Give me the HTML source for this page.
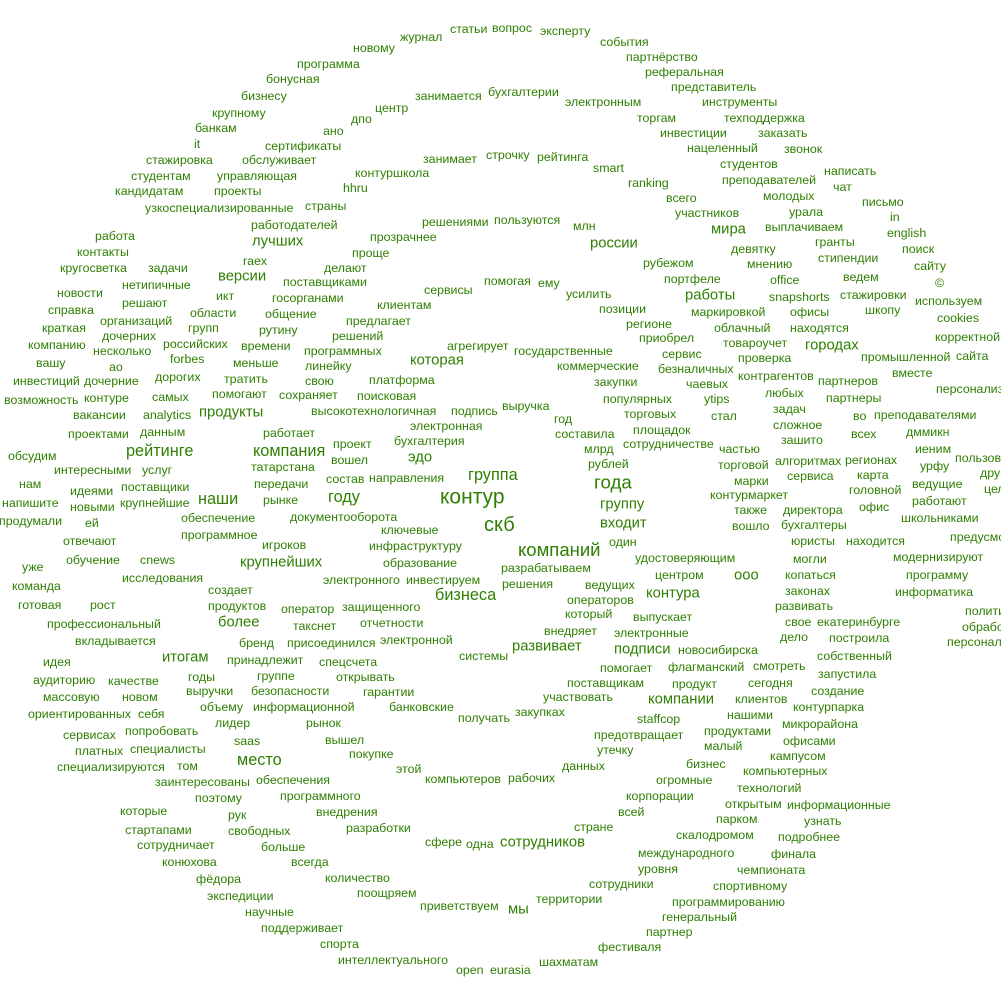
<!DOCTYPE html>
<html><head><meta charset="utf-8"><style>
html,body{margin:0;padding:0;background:#fff;width:1001px;height:1001px;overflow:hidden}
#w{position:relative;width:1001px;height:1001px;font-family:"Liberation Sans",Arial,sans-serif;font-size:12.4px;color:#2f7f02;line-height:1}
#w i{position:absolute;font-style:normal;white-space:nowrap;transform:translateY(-50%)}
#w i.b{font-size:14.8px}
#w i.c{font-size:16.3px}
#w i.d{font-size:18.8px}
</style></head><body><div id="w">
<i style="left:400px;top:37px">журнал</i>
<i style="left:450px;top:29px">статьи</i>
<i style="left:492px;top:28px">вопрос</i>
<i style="left:540px;top:31px">эксперту</i>
<i style="left:353px;top:48px">новому</i>
<i style="left:600px;top:42px">события</i>
<i style="left:626px;top:57px">партнёрство</i>
<i style="left:297px;top:64px">программа</i>
<i style="left:645px;top:72px">реферальная</i>
<i style="left:266px;top:79px">бонусная</i>
<i style="left:671px;top:87px">представитель</i>
<i style="left:415px;top:96px">занимается</i>
<i style="left:488px;top:92px">бухгалтерии</i>
<i style="left:241px;top:96px">бизнесу</i>
<i style="left:375px;top:108px">центр</i>
<i style="left:565px;top:102px">электронным</i>
<i style="left:702px;top:102px">инструменты</i>
<i style="left:212px;top:113px">крупному</i>
<i style="left:351px;top:119px">дпо</i>
<i style="left:637px;top:118px">торгам</i>
<i style="left:724px;top:118px">техподдержка</i>
<i style="left:195px;top:128px">банкам</i>
<i style="left:323px;top:131px">ано</i>
<i style="left:660px;top:133px">инвестиции</i>
<i style="left:758px;top:133px">заказать</i>
<i style="left:194px;top:144px">it</i>
<i style="left:265px;top:146px">сертификаты</i>
<i style="left:687px;top:148px">нацеленный</i>
<i style="left:784px;top:149px">звонок</i>
<i style="left:423px;top:159px">занимает</i>
<i style="left:486px;top:155px">строчку</i>
<i style="left:537px;top:157px">рейтинга</i>
<i style="left:146px;top:160px">стажировка</i>
<i style="left:242px;top:160px">обслуживает</i>
<i style="left:593px;top:168px">smart</i>
<i style="left:720px;top:164px">студентов</i>
<i style="left:131px;top:176px">студентам</i>
<i style="left:217px;top:176px">управляющая</i>
<i style="left:355px;top:173px">контуршкола</i>
<i style="left:628px;top:183px">ranking</i>
<i style="left:722px;top:180px">преподавателей</i>
<i style="left:824px;top:171px">написать</i>
<i style="left:115px;top:191px">кандидатам</i>
<i style="left:214px;top:191px">проекты</i>
<i style="left:343px;top:188px">hhru</i>
<i style="left:666px;top:198px">всего</i>
<i style="left:763px;top:196px">молодых</i>
<i style="left:833px;top:187px">чат</i>
<i style="left:862px;top:202px">письмо</i>
<i style="left:145px;top:208px">узкоспециализированные</i>
<i style="left:305px;top:206px">страны</i>
<i style="left:422px;top:222px">решениями</i>
<i style="left:494px;top:220px">пользуются</i>
<i style="left:675px;top:213px">участников</i>
<i style="left:789px;top:212px">урала</i>
<i style="left:890px;top:217px">in</i>
<i style="left:251px;top:225px">работодателей</i>
<i style="left:573px;top:226px">млн</i>
<i style="left:765px;top:227px">выплачиваем</i>
<i style="left:887px;top:233px">english</i>
<i style="left:95px;top:236px">работа</i>
<i class="b" style="left:252px;top:242px">лучших</i>
<i style="left:370px;top:237px">прозрачнее</i>
<i class="b" style="left:590px;top:244px">россии</i>
<i class="b" style="left:711px;top:230px">мира</i>
<i style="left:815px;top:242px">гранты</i>
<i style="left:77px;top:252px">контакты</i>
<i style="left:352px;top:253px">проще</i>
<i style="left:731px;top:249px">девятку</i>
<i style="left:818px;top:258px">стипендии</i>
<i style="left:902px;top:249px">поиск</i>
<i style="left:243px;top:261px">raex</i>
<i class="b" style="left:218px;top:277px">версии</i>
<i style="left:283px;top:282px">поставщиками</i>
<i style="left:324px;top:268px">делают</i>
<i style="left:484px;top:281px">помогая</i>
<i style="left:538px;top:283px">ему</i>
<i style="left:643px;top:263px">рубежом</i>
<i style="left:747px;top:264px">мнению</i>
<i style="left:843px;top:277px">ведем</i>
<i style="left:914px;top:266px">сайту</i>
<i style="left:60px;top:268px">кругосветка</i>
<i style="left:148px;top:268px">задачи</i>
<i style="left:122px;top:285px">нетипичные</i>
<i style="left:424px;top:290px">сервисы</i>
<i style="left:566px;top:294px">усилить</i>
<i style="left:664px;top:279px">портфеле</i>
<i style="left:770px;top:280px">office</i>
<i style="left:935px;top:283px">©</i>
<i style="left:57px;top:293px">новости</i>
<i style="left:216px;top:296px">икт</i>
<i style="left:272px;top:298px">госорганами</i>
<i style="left:377px;top:305px">клиентам</i>
<i class="b" style="left:685px;top:296px">работы</i>
<i style="left:769px;top:297px">snapshorts</i>
<i style="left:840px;top:295px">стажировки</i>
<i style="left:915px;top:301px">используем</i>
<i style="left:48px;top:310px">справка</i>
<i style="left:122px;top:303px">решают</i>
<i style="left:190px;top:313px">области</i>
<i style="left:265px;top:314px">общение</i>
<i style="left:599px;top:309px">позиции</i>
<i style="left:691px;top:312px">маркировкой</i>
<i style="left:790px;top:312px">офисы</i>
<i style="left:865px;top:310px">шкопу</i>
<i style="left:42px;top:328px">краткая</i>
<i style="left:100px;top:321px">организаций</i>
<i style="left:188px;top:328px">групп</i>
<i style="left:259px;top:330px">рутину</i>
<i style="left:346px;top:321px">предлагает</i>
<i style="left:626px;top:324px">регионе</i>
<i style="left:937px;top:318px">cookies</i>
<i style="left:28px;top:345px">компанию</i>
<i style="left:102px;top:336px">дочерних</i>
<i style="left:241px;top:346px">времени</i>
<i style="left:332px;top:336px">решений</i>
<i style="left:447px;top:346px">агрегирует</i>
<i style="left:714px;top:328px">облачный</i>
<i style="left:790px;top:328px">находятся</i>
<i style="left:935px;top:337px">корректной</i>
<i style="left:36px;top:363px">вашу</i>
<i style="left:93px;top:351px">несколько</i>
<i style="left:170px;top:359px">forbes</i>
<i style="left:163px;top:344px">российских</i>
<i style="left:304px;top:351px">программных</i>
<i style="left:639px;top:338px">приобрел</i>
<i style="left:723px;top:343px">товароучет</i>
<i class="b" style="left:805px;top:346px">городах</i>
<i style="left:956px;top:356px">сайта</i>
<i style="left:109px;top:367px">ао</i>
<i style="left:233px;top:363px">меньше</i>
<i style="left:305px;top:366px">линейку</i>
<i style="left:514px;top:351px">государственные</i>
<i style="left:662px;top:354px">сервис</i>
<i style="left:738px;top:358px">проверка</i>
<i style="left:861px;top:357px">промышленной</i>
<i style="left:13px;top:381px">инвестиций</i>
<i style="left:84px;top:381px">дочерние</i>
<i style="left:155px;top:377px">дорогих</i>
<i style="left:224px;top:379px">тратить</i>
<i style="left:305px;top:381px">свою</i>
<i style="left:369px;top:380px">платформа</i>
<i class="b" style="left:410px;top:361px">которая</i>
<i style="left:557px;top:366px">коммерческие</i>
<i style="left:658px;top:369px">безналичных</i>
<i style="left:892px;top:373px">вместе</i>
<i style="left:936px;top:389px">персонализ</i>
<i style="left:4px;top:400px">возможность</i>
<i style="left:84px;top:398px">контуре</i>
<i style="left:152px;top:397px">самых</i>
<i style="left:212px;top:394px">помогают</i>
<i style="left:279px;top:395px">сохраняет</i>
<i style="left:357px;top:396px">поисковая</i>
<i style="left:594px;top:382px">закупки</i>
<i style="left:738px;top:376px">контрагентов</i>
<i style="left:818px;top:381px">партнеров</i>
<i style="left:686px;top:384px">чаевых</i>
<i style="left:73px;top:415px">вакансии</i>
<i style="left:143px;top:415px">analytics</i>
<i class="b" style="left:199px;top:413px">продукты</i>
<i style="left:311px;top:411px">высокотехнологичная</i>
<i style="left:451px;top:411px">подпись</i>
<i style="left:502px;top:406px">выручка</i>
<i style="left:603px;top:399px">популярных</i>
<i style="left:704px;top:399px">ytips</i>
<i style="left:765px;top:393px">любых</i>
<i style="left:826px;top:398px">партнеры</i>
<i style="left:711px;top:416px">стал</i>
<i style="left:853px;top:416px">во</i>
<i style="left:874px;top:415px">преподавателями</i>
<i style="left:68px;top:434px">проектами</i>
<i style="left:140px;top:432px">данным</i>
<i style="left:624px;top:414px">торговых</i>
<i style="left:773px;top:409px">задач</i>
<i style="left:410px;top:426px">электронная</i>
<i style="left:554px;top:419px">год</i>
<i style="left:633px;top:430px">площадок</i>
<i style="left:773px;top:425px">сложное</i>
<i style="left:851px;top:434px">всех</i>
<i style="left:906px;top:432px">дммикн</i>
<i style="left:8px;top:456px">обсудим</i>
<i style="left:54px;top:470px">интересными</i>
<i style="left:263px;top:433px">работает</i>
<i style="left:333px;top:444px">проект</i>
<i style="left:394px;top:441px">бухгалтерия</i>
<i style="left:555px;top:434px">составила</i>
<i style="left:623px;top:444px">сотрудничестве</i>
<i style="left:781px;top:440px">зашито</i>
<i class="c" style="left:126px;top:451px">рейтинге</i>
<i class="c" style="left:253px;top:451px">компания</i>
<i style="left:584px;top:449px">млрд</i>
<i style="left:719px;top:449px">частью</i>
<i style="left:915px;top:449px">иеним</i>
<i style="left:955px;top:458px">пользов</i>
<i style="left:142px;top:470px">услуг</i>
<i style="left:331px;top:460px">вошел</i>
<i class="b" style="left:408px;top:458px">эдо</i>
<i style="left:775px;top:461px">алгоритмах</i>
<i style="left:845px;top:460px">регионах</i>
<i style="left:19px;top:484px">нам</i>
<i style="left:70px;top:491px">идеями</i>
<i style="left:251px;top:467px">татарстана</i>
<i style="left:588px;top:464px">рублей</i>
<i style="left:718px;top:465px">торговой</i>
<i style="left:920px;top:466px">урфу</i>
<i style="left:980px;top:473px">дру</i>
<i style="left:121px;top:487px">поставщики</i>
<i style="left:326px;top:479px">состав</i>
<i style="left:369px;top:478px">направления</i>
<i class="c" style="left:468px;top:475px">группа</i>
<i style="left:787px;top:476px">сервиса</i>
<i style="left:857px;top:475px">карта</i>
<i style="left:254px;top:484px">передачи</i>
<i style="left:734px;top:481px">марки</i>
<i style="left:912px;top:484px">ведущие</i>
<i style="left:984px;top:489px">цел</i>
<i style="left:2px;top:503px">напишите</i>
<i style="left:70px;top:507px">новыми</i>
<i style="left:120px;top:503px">крупнейшие</i>
<i class="c" style="left:198px;top:499px">наши</i>
<i style="left:263px;top:500px">рынке</i>
<i class="c" style="left:328px;top:497px">году</i>
<i style="left:440px;top:497px;font-size:21px">контур</i>
<i class="d" style="left:594px;top:483px">года</i>
<i style="left:710px;top:495px">контурмаркет</i>
<i style="left:849px;top:490px">головной</i>
<i style="left:912px;top:501px">работают</i>
<i style="left:-1px;top:521px">продумали</i>
<i style="left:85px;top:523px">ей</i>
<i style="left:181px;top:518px">обеспечение</i>
<i style="left:290px;top:517px">документооборота</i>
<i style="left:484px;top:525px;font-size:20px">скб</i>
<i class="b" style="left:600px;top:505px">группу</i>
<i class="b" style="left:600px;top:524px">входит</i>
<i style="left:734px;top:510px">также</i>
<i style="left:783px;top:510px">директора</i>
<i style="left:859px;top:507px">офис</i>
<i style="left:901px;top:518px">школьниками</i>
<i style="left:63px;top:541px">отвечают</i>
<i style="left:181px;top:535px">программное</i>
<i style="left:381px;top:530px">ключевые</i>
<i style="left:732px;top:526px">вошло</i>
<i style="left:781px;top:525px">бухгалтеры</i>
<i style="left:262px;top:545px">игроков</i>
<i style="left:369px;top:546px">инфраструктуру</i>
<i style="left:609px;top:542px">один</i>
<i style="left:791px;top:541px">юристы</i>
<i style="left:846px;top:541px">находится</i>
<i style="left:950px;top:537px">предусмо</i>
<i style="left:518px;top:550px;font-size:18.5px">компаний</i>
<i style="left:22px;top:567px">уже</i>
<i style="left:66px;top:560px">обучение</i>
<i style="left:140px;top:560px">cnews</i>
<i class="b" style="left:240px;top:563px">крупнейших</i>
<i style="left:383px;top:563px">образование</i>
<i style="left:635px;top:558px">удостоверяющим</i>
<i style="left:793px;top:559px">могли</i>
<i style="left:893px;top:557px">модернизируют</i>
<i style="left:501px;top:568px">разрабатываем</i>
<i style="left:12px;top:586px">команда</i>
<i style="left:122px;top:578px">исследования</i>
<i style="left:323px;top:580px">электронного</i>
<i style="left:406px;top:580px">инвестируем</i>
<i style="left:655px;top:575px">центром</i>
<i class="b" style="left:734px;top:576px">ооо</i>
<i style="left:785px;top:575px">копаться</i>
<i style="left:906px;top:575px">программу</i>
<i style="left:502px;top:584px">решения</i>
<i style="left:585px;top:585px">ведущих</i>
<i style="left:208px;top:590px">создает</i>
<i class="c" style="left:435px;top:595px">бизнеса</i>
<i class="b" style="left:646px;top:594px">контура</i>
<i style="left:785px;top:591px">законах</i>
<i style="left:895px;top:592px">информатика</i>
<i style="left:18px;top:605px">готовая</i>
<i style="left:90px;top:605px">рост</i>
<i style="left:208px;top:606px">продуктов</i>
<i style="left:281px;top:609px">оператор</i>
<i style="left:342px;top:607px">защищенного</i>
<i style="left:567px;top:600px">операторов</i>
<i style="left:775px;top:606px">развивать</i>
<i style="left:965px;top:611px">политики</i>
<i style="left:47px;top:624px">профессиональный</i>
<i class="b" style="left:218px;top:623px">более</i>
<i style="left:293px;top:626px">такснет</i>
<i style="left:360px;top:623px">отчетности</i>
<i style="left:565px;top:614px">который</i>
<i style="left:633px;top:617px">выпускает</i>
<i style="left:785px;top:622px">свое</i>
<i style="left:817px;top:622px">екатеринбурге</i>
<i style="left:962px;top:627px">обработки</i>
<i style="left:75px;top:641px">вкладывается</i>
<i style="left:239px;top:643px">бренд</i>
<i style="left:287px;top:643px">присоединился</i>
<i style="left:380px;top:640px">электронной</i>
<i style="left:544px;top:631px">внедряет</i>
<i style="left:614px;top:633px">электронные</i>
<i style="left:780px;top:637px">дело</i>
<i style="left:829px;top:638px">построила</i>
<i style="left:947px;top:642px">персональных</i>
<i style="left:43px;top:662px">идея</i>
<i class="b" style="left:162px;top:658px">итогам</i>
<i style="left:227px;top:660px">принадлежит</i>
<i style="left:319px;top:662px">спецсчета</i>
<i style="left:459px;top:656px">системы</i>
<i class="b" style="left:512px;top:647px">развивает</i>
<i class="b" style="left:614px;top:650px">подписи</i>
<i style="left:678px;top:650px">новосибирска</i>
<i style="left:817px;top:656px">собственный</i>
<i style="left:33px;top:680px">аудиторию</i>
<i style="left:108px;top:681px">качестве</i>
<i style="left:188px;top:677px">годы</i>
<i style="left:257px;top:676px">группе</i>
<i style="left:336px;top:677px">открывать</i>
<i style="left:600px;top:668px">помогает</i>
<i style="left:668px;top:667px">флагманский</i>
<i style="left:753px;top:666px">смотреть</i>
<i style="left:818px;top:674px">запустила</i>
<i style="left:43px;top:697px">массовую</i>
<i style="left:122px;top:697px">новом</i>
<i style="left:186px;top:691px">выручки</i>
<i style="left:251px;top:691px">безопасности</i>
<i style="left:363px;top:692px">гарантии</i>
<i style="left:567px;top:683px">поставщикам</i>
<i style="left:672px;top:684px">продукт</i>
<i style="left:748px;top:683px">сегодня</i>
<i style="left:811px;top:691px">создание</i>
<i style="left:28px;top:714px">ориентированных</i>
<i style="left:138px;top:714px">себя</i>
<i style="left:200px;top:707px">объему</i>
<i style="left:253px;top:707px">информационной</i>
<i style="left:389px;top:707px">банковские</i>
<i style="left:543px;top:697px">участвовать</i>
<i class="b" style="left:648px;top:700px">компании</i>
<i style="left:735px;top:699px">клиентов</i>
<i style="left:793px;top:707px">контурпарка</i>
<i style="left:215px;top:723px">лидер</i>
<i style="left:306px;top:723px">рынок</i>
<i style="left:458px;top:718px">получать</i>
<i style="left:515px;top:712px">закупках</i>
<i style="left:637px;top:719px">staffcop</i>
<i style="left:727px;top:715px">нашими</i>
<i style="left:782px;top:724px">микрорайона</i>
<i style="left:63px;top:735px">сервисах</i>
<i style="left:125px;top:731px">попробовать</i>
<i style="left:234px;top:741px">saas</i>
<i style="left:325px;top:740px">вышел</i>
<i style="left:594px;top:735px">предотвращает</i>
<i style="left:704px;top:731px">продуктами</i>
<i style="left:783px;top:741px">офисами</i>
<i style="left:75px;top:751px">платных</i>
<i style="left:130px;top:749px">специалисты</i>
<i style="left:349px;top:754px">покупке</i>
<i style="left:597px;top:750px">утечку</i>
<i style="left:704px;top:746px">малый</i>
<i style="left:770px;top:756px">кампусом</i>
<i style="left:57px;top:767px">специализируются</i>
<i style="left:177px;top:766px">том</i>
<i class="c" style="left:237px;top:760px">место</i>
<i style="left:396px;top:769px">этой</i>
<i style="left:562px;top:766px">данных</i>
<i style="left:686px;top:764px">бизнес</i>
<i style="left:743px;top:771px">компьютерных</i>
<i style="left:155px;top:782px">заинтересованы</i>
<i style="left:256px;top:780px">обеспечения</i>
<i style="left:425px;top:779px">компьютеров</i>
<i style="left:508px;top:778px">рабочих</i>
<i style="left:656px;top:780px">огромные</i>
<i style="left:737px;top:788px">технологий</i>
<i style="left:195px;top:798px">поэтому</i>
<i style="left:280px;top:796px">программного</i>
<i style="left:626px;top:796px">корпорации</i>
<i style="left:725px;top:804px">открытым</i>
<i style="left:787px;top:805px">информационные</i>
<i style="left:120px;top:811px">которые</i>
<i style="left:228px;top:815px">рук</i>
<i style="left:316px;top:812px">внедрения</i>
<i style="left:618px;top:812px">всей</i>
<i style="left:716px;top:819px">парком</i>
<i style="left:804px;top:821px">узнать</i>
<i style="left:125px;top:830px">стартапами</i>
<i style="left:228px;top:831px">свободных</i>
<i style="left:346px;top:828px">разработки</i>
<i style="left:574px;top:827px">стране</i>
<i style="left:676px;top:835px">скалодромом</i>
<i style="left:778px;top:837px">подробнее</i>
<i style="left:137px;top:845px">сотрудничает</i>
<i style="left:261px;top:847px">больше</i>
<i style="left:425px;top:842px">сфере</i>
<i style="left:466px;top:844px">одна</i>
<i class="b" style="left:500px;top:843px">сотрудников</i>
<i style="left:638px;top:853px">международного</i>
<i style="left:771px;top:854px">финала</i>
<i style="left:162px;top:862px">конюхова</i>
<i style="left:291px;top:862px">всегда</i>
<i style="left:638px;top:869px">уровня</i>
<i style="left:737px;top:870px">чемпионата</i>
<i style="left:196px;top:879px">фёдора</i>
<i style="left:325px;top:878px">количество</i>
<i style="left:589px;top:884px">сотрудники</i>
<i style="left:713px;top:886px">спортивному</i>
<i style="left:207px;top:896px">экспедиции</i>
<i style="left:357px;top:893px">поощряем</i>
<i style="left:420px;top:906px">приветствуем</i>
<i class="b" style="left:508px;top:910px">мы</i>
<i style="left:536px;top:899px">территории</i>
<i style="left:672px;top:902px">программированию</i>
<i style="left:245px;top:912px">научные</i>
<i style="left:662px;top:917px">генеральный</i>
<i style="left:261px;top:928px">поддерживает</i>
<i style="left:646px;top:932px">партнер</i>
<i style="left:320px;top:944px">спорта</i>
<i style="left:598px;top:947px">фестиваля</i>
<i style="left:338px;top:960px">интеллектуального</i>
<i style="left:539px;top:962px">шахматам</i>
<i style="left:456px;top:970px">open</i>
<i style="left:490px;top:970px">eurasia</i>
</div></body></html>
